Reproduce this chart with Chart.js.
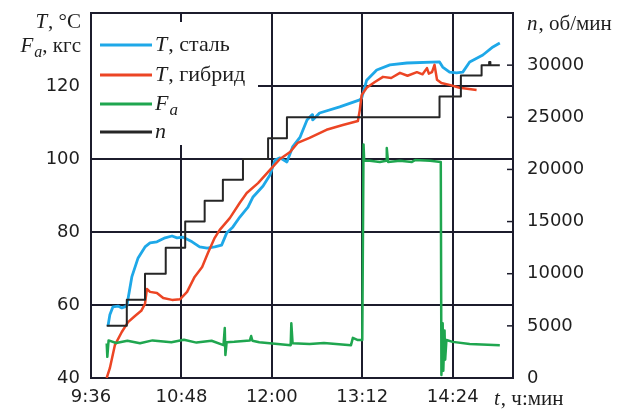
<!DOCTYPE html>
<html>
<head>
<meta charset="utf-8">
<script src="https://cdn.jsdelivr.net/npm/chart.js@4.4.1/dist/chart.umd.min.js"></script>
<style>
  html, body { margin: 0; padding: 0; background: #fff; }
  #wrap { width: 625px; height: 412px; }
</style>
</head>
<body>
<div id="wrap"><canvas id="myChart" width="625" height="412"></canvas></div>
<script>
// time is in minutes from midnight (9:36 = 576)
const timeTicks = [576, 648, 720, 792, 864];

const steelTime = [589.5, 591, 593.5, 597.5, 600.5, 604.5, 608.5, 613.5, 619, 623, 628.5, 635, 640.5, 644.5, 649, 656.5, 662.5, 668.5, 674.5, 680, 684, 689, 694.5, 701, 705, 713, 718.5, 722.5, 726.5, 732, 736.5, 742.5, 748, 752, 752.5, 758, 774, 790, 791.5, 795.5, 803.5, 814, 827.5, 853.5, 856, 861.5, 867, 872, 877.5, 888, 896, 901.5];
const steelTemp = [54.2, 57.3, 59.5, 59.7, 59.2, 59.7, 67.7, 72.9, 75.9, 77.0, 77.3, 78.4, 78.9, 78.4, 78.6, 77.3, 75.9, 75.6, 75.9, 76.4, 79.7, 81.4, 84.1, 86.8, 89.6, 92.6, 95.6, 99.7, 100.3, 99.2, 103.3, 106, 110.7, 112.1, 110.7, 112.6, 114.3, 116.2, 116.7, 121.6, 124.4, 125.8, 126.3, 126.6, 125.2, 123.8, 123.6, 123.8, 126.6, 128.5, 130.7, 131.8];

const hybridTime = [588.5, 591, 595, 600.5, 605.5, 611, 616, 619, 620.5, 623, 628.5, 633.5, 640.5, 647, 652.5, 658.5, 664.5, 669, 674.5, 678.5, 686.5, 694.5, 700, 709, 718.5, 726.5, 734.5, 740.5, 750, 763.5, 776.5, 788.5, 790, 791.5, 795.5, 802, 808.5, 815, 822, 828, 835.5, 840, 843.5, 845, 847.5, 849.5, 851.5, 855, 861.5, 869.5, 883];
const hybridTemp = [40, 42.7, 49, 52.6, 55.3, 57, 58.4, 60.3, 64.4, 63.6, 63.3, 61.9, 61.4, 61.6, 63.6, 67.7, 70.4, 74.2, 78.4, 80.6, 83.8, 88, 90.7, 93.4, 97, 100, 101.9, 104.4, 105.8, 108, 109.3, 110.4, 113.4, 117.5, 119.5, 121.1, 122.5, 122.2, 123.6, 122.8, 123.8, 123.2, 124.9, 123.4, 123.8, 125.8, 121.7, 120.8, 120.3, 119.5, 118.9];

const forceTime = [588.5, 589, 590, 596, 605, 615, 625, 640, 650, 660, 672, 681.5, 682.5, 683, 684, 690, 702.5, 703.5, 704.5, 710, 735, 735.5, 736.5, 750, 761.5, 783, 784.5, 788.5, 792, 793, 793.5, 798, 806, 811, 811.5, 812.5, 822, 831.5, 834, 846, 854.5, 855, 856, 856.5, 857.5, 858, 859, 864, 877.5, 901.5];
const forceKgf = [49.5, 45.8, 50.3, 49.6, 50.2, 49.5, 50.3, 49.8, 50.5, 49.7, 50.2, 49, 53.7, 46.3, 49.8, 49.9, 50.3, 51.5, 50.2, 49.8, 49, 55, 49.5, 49.3, 49.6, 49, 51, 50.4, 50.4, 104, 99.5, 99.5, 99.2, 99.5, 103, 99.2, 99.5, 99.2, 99.7, 99.5, 99.2, 40.8, 55, 42, 53, 45, 50.4, 49.9, 49.3, 49];

const rpmTime = [588.5, 604.5, 619, 635.5, 651, 666.5, 681, 697, 717, 732, 853.5, 870.5, 887, 893, 894, 901.5];
const rpmValue = [5000, 7500, 10000, 12500, 15000, 17000, 19000, 21000, 23000, 25000, 27000, 29000, 30000, 30300, 30000, 30000];

const colors = {
  steel: '#1ea8e8',
  hybrid: '#ec4524',
  force: '#1fa64f',
  rpm: '#262626',
  grid: '#1c1c2c',
  text: '#1e1e1e'
};

const fonts = {
  tick: '"DejaVu Sans", Verdana, sans-serif',
  serif: '"Liberation Serif", "Times New Roman", serif'
};

function toPoints(xs, ys) {
  return xs.map((x, i) => ({ x: x, y: ys[i] }));
}

function timeLabel(v) {
  const h = Math.floor(v / 60);
  const m = v % 60;
  return h + ':' + (m < 10 ? '0' : '') + m;
}

// y axes: fixed width and no extra room for half labels
function fitY(width) {
  return function(scale) {
    scale.width = width;
    scale.paddingTop = 0;
    scale.paddingBottom = 0;
  };
}

// draws text made of pieces, some italic, some subscript
function drawRuns(ctx, runs, x, y, align, size) {
  const fontOf = (r) => (r.it ? 'italic ' : '') + (r.sub ? Math.round(size * 0.75) : size) + 'px ' + fonts.serif;
  let total = 0;
  runs.forEach((r) => { ctx.font = fontOf(r); total += ctx.measureText(r.t).width; });
  let cx = align === 'right' ? x - total : x;
  ctx.textAlign = 'left';
  ctx.textBaseline = 'middle';
  ctx.fillStyle = colors.text;
  runs.forEach((r) => {
    ctx.font = fontOf(r);
    ctx.fillText(r.t, cx, y + (r.sub ? size * 0.3 : 0));
    cx += ctx.measureText(r.t).width + (r.it && !r.sub ? 1 : 0);
  });
}

const legendItems = [
  { color: colors.steel, y: 45, runs: [{ t: 'T', it: true }, { t: ', сталь' }] },
  { color: colors.hybrid, y: 75, runs: [{ t: 'T', it: true }, { t: ', гибрид' }] },
  { color: colors.force, y: 104, runs: [{ t: 'F', it: true }, { t: 'a', it: true, sub: true }] },
  { color: colors.rpm, y: 132, runs: [{ t: 'n', it: true }] }
];

const decorPlugin = {
  id: 'decor',
  beforeDatasetsDraw: function(chart) {
    const ctx = chart.ctx;
    const a = chart.chartArea;
    ctx.save();

    // legend box hides the grid behind it
    ctx.fillStyle = '#fff';
    ctx.fillRect(a.left + 1, 22, 257 - a.left, 123);
    legendItems.forEach(function(item) {
      ctx.strokeStyle = item.color;
      ctx.lineWidth = 3;
      ctx.beginPath();
      ctx.moveTo(100, item.y);
      ctx.lineTo(152, item.y);
      ctx.stroke();
      drawRuns(ctx, item.runs, 155, item.y, 'left', 22);
    });

    // frame
    ctx.strokeStyle = colors.grid;
    ctx.lineWidth = 2;
    ctx.strokeRect(a.left, a.top, a.right - a.left, a.bottom - a.top);

    // inner tick marks of the rpm axis
    const yN = chart.scales.yN;
    ctx.lineWidth = 1.5;
    for (let v = 5000; v <= 30000; v += 5000) {
      const py = yN.getPixelForValue(v);
      ctx.beginPath();
      ctx.moveTo(a.right - 6, py);
      ctx.lineTo(a.right, py);
      ctx.stroke();
    }
    ctx.restore();
  },
  afterDraw: function(chart) {
    const ctx = chart.ctx;
    ctx.save();
    drawRuns(ctx, [{ t: 'T', it: true }, { t: ', °C' }], 80, 22, 'right', 21);
    drawRuns(ctx, [{ t: 'F', it: true }, { t: 'a', it: true, sub: true }, { t: ', кгс' }], 80, 46, 'right', 21);
    drawRuns(ctx, [{ t: 'n', it: true }, { t: ', об/мин' }], 527, 24, 'left', 21);
    drawRuns(ctx, [{ t: 't', it: true }, { t: ', ч:мин' }], 494, 399, 'left', 21);
    ctx.restore();
  }
};

const app = {

  initChart: function() {
    const ctx = document.querySelector('#myChart').getContext('2d');
    const line = { pointRadius: 0, tension: 0, fill: false, borderJoinStyle: 'round' };

    // eslint-disable-next-line no-undef
    new Chart(ctx, {
      type: 'line',
      data: {
        datasets: [
          Object.assign({ label: 'n', data: toPoints(rpmTime, rpmValue), yAxisID: 'yN', borderColor: colors.rpm, borderWidth: 2, stepped: true }, line),
          Object.assign({ label: 'Fa', data: toPoints(forceTime, forceKgf), yAxisID: 'y', borderColor: colors.force, borderWidth: 2.5 }, line),
          Object.assign({ label: 'T, гибрид', data: toPoints(hybridTime, hybridTemp), yAxisID: 'y', borderColor: colors.hybrid, borderWidth: 2.5 }, line),
          Object.assign({ label: 'T, сталь', data: toPoints(steelTime, steelTemp), yAxisID: 'y', borderColor: colors.steel, borderWidth: 2.8 }, line)
        ]
      },
      options: {
        responsive: false,
        animation: false,
        layout: { padding: { top: 13, left: 0, right: 0, bottom: 0 } },
        plugins: { legend: { display: false }, tooltip: { enabled: false } },
        scales: {
          x: {
            type: 'linear',
            min: 576,
            max: 912,
            afterBuildTicks: function(scale) {
              scale.ticks = timeTicks.map((v) => ({ value: v }));
            },
            afterFit: function(scale) { scale.height = 34; },
            grid: { color: colors.grid, lineWidth: 2, drawTicks: false },
            border: { display: false },
            ticks: {
              padding: 9,
              maxRotation: 0,
              color: colors.text,
              font: { family: fonts.tick, size: 18 },
              callback: (v) => timeLabel(v)
            }
          },
          y: {
            position: 'left',
            min: 40,
            max: 140,
            afterFit: fitY(91),
            grid: { color: colors.grid, lineWidth: 2, drawTicks: false },
            border: { display: false },
            ticks: {
              stepSize: 20,
              padding: 11,
              color: colors.text,
              font: { family: fonts.tick, size: 18 },
              callback: (v) => (v === 140 ? '' : v)
            }
          },
          yN: {
            position: 'right',
            min: 0,
            max: 35000,
            afterFit: fitY(112),
            grid: { drawOnChartArea: false, drawTicks: false },
            border: { display: false },
            ticks: {
              stepSize: 5000,
              padding: 14,
              color: colors.text,
              font: { family: fonts.tick, size: 18 },
              callback: (v) => (v === 35000 ? '' : v)
            }
          }
        }
      },
      plugins: [decorPlugin]
    });
  },

  start: function() {
    this.initChart();
  }
};

app.start();
</script>
</body>
</html>
